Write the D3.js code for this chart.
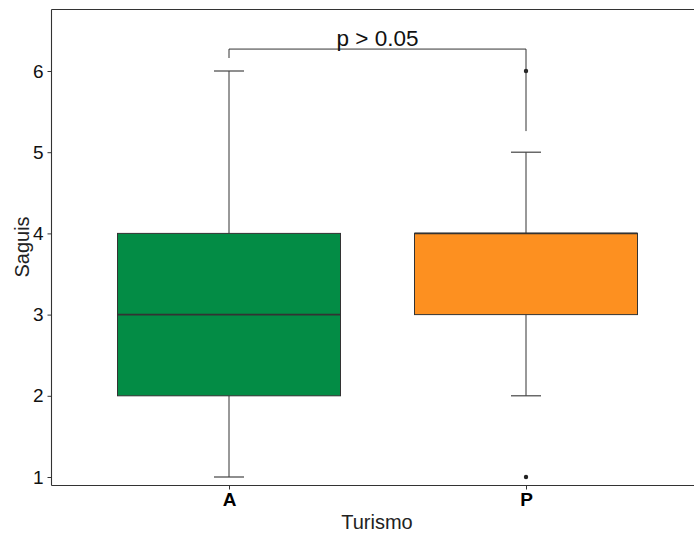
<!DOCTYPE html>
<html><head><meta charset="utf-8">
<script src="https://cdn.jsdelivr.net/npm/d3@7"></script>
<style>body{margin:0;background:#fff}</style>
</head><body>
<script>
const groups = ["A", "P"];
const whiskerLow = [1, 2];
const q1 = [2, 3];
const median = [3, 4];
const q3 = [4, 4];
const whiskerHigh = [6, 5];
const outliers = [[], [6, 1]];
const fills = ["#038c45", "#fd9020"];
const yTicks = [1, 2, 3, 4, 5, 6];
const pLabel = "p > 0.05";
const bracketY = 6.27;
const tipEnds = [6.16, 5.26];

const W = 694, H = 534;
const svg = d3.select("body").append("svg").attr("width", W).attr("height", H)
  .style("font-family", "'Liberation Sans', Arial, sans-serif");

const L = 51.5, R = 704, T = 9.5, B = 485.5;
const xc = d3.scalePoint().domain(groups).range([229, 526]);
const y = d3.scaleLinear().domain([1, 6]).range([477, 71]);
const bw = 223;

svg.append("line").attr("x1", L).attr("x2", R).attr("y1", T).attr("y2", T).attr("stroke", "#333").attr("stroke-width", 1.1);

const g = svg.append("g");
groups.forEach((k, i) => {
  const cx = xc(k);
  g.append("line").attr("x1", cx).attr("x2", cx).attr("y1", y(whiskerLow[i])).attr("y2", y(q1[i])).attr("stroke", "#333").attr("stroke-width", 1);
  g.append("line").attr("x1", cx).attr("x2", cx).attr("y1", y(q3[i])).attr("y2", y(whiskerHigh[i])).attr("stroke", "#333").attr("stroke-width", 1);
  [whiskerLow[i], whiskerHigh[i]].forEach(v => {
    g.append("line").attr("x1", cx - 15).attr("x2", cx + 15).attr("y1", y(v)).attr("y2", y(v)).attr("stroke", "#444").attr("stroke-width", 1.2);
  });
  g.append("rect").attr("x", cx - bw / 2).attr("y", y(q3[i])).attr("width", bw).attr("height", y(q1[i]) - y(q3[i]))
    .attr("fill", fills[i]).attr("stroke", "#333").attr("stroke-width", 1);
  g.append("line").attr("x1", cx - bw / 2).attr("x2", cx + bw / 2).attr("y1", y(median[i])).attr("y2", y(median[i])).attr("stroke", "#333").attr("stroke-width", 1.6);
  outliers[i].forEach(v => {
    g.append("circle").attr("cx", cx).attr("cy", y(v)).attr("r", 2.2).attr("fill", "#222");
  });
});

const bx1 = xc("A"), bx2 = xc("P");
svg.append("path")
  .attr("d", `M${bx1},${y(tipEnds[0])}V${y(bracketY)}H${bx2}V${y(tipEnds[1])}`)
  .attr("fill", "none").attr("stroke", "#333").attr("stroke-width", 1);
svg.append("text").attr("x", (bx1 + bx2) / 2).attr("y", y(bracketY) - 3).attr("text-anchor", "middle")
  .attr("font-size", 22.5).attr("fill", "#111").text(pLabel);

const ya = svg.append("g").attr("transform", `translate(${L},0)`)
  .call(d3.axisLeft(y).tickValues(yTicks).tickSize(4).tickPadding(4).tickFormat(d3.format("d")));
ya.select(".domain").remove();
ya.selectAll(".tick line").attr("stroke", "#333");
ya.selectAll("text").attr("font-size", 19).attr("fill", "#111").style("font-family", "'Liberation Sans', Arial, sans-serif");
svg.append("line").attr("x1", L).attr("x2", L).attr("y1", T).attr("y2", B).attr("stroke", "#333").attr("stroke-width", 1.1);

const xa = svg.append("g").attr("transform", `translate(0,${B})`)
  .call(d3.axisBottom(xc).tickSize(4).tickPadding(3));
xa.select(".domain").remove();
xa.selectAll(".tick line").attr("stroke", "#333");
xa.selectAll("text").attr("font-size", 19).attr("font-weight", "bold").attr("fill", "#000").style("font-family", "'Liberation Sans', Arial, sans-serif");
svg.append("line").attr("x1", L).attr("x2", R).attr("y1", B).attr("y2", B).attr("stroke", "#333").attr("stroke-width", 1.1);

svg.append("text").attr("x", 377).attr("y", 529).attr("text-anchor", "middle").attr("font-size", 20).attr("fill", "#222").text("Turismo");
svg.append("text").attr("transform", "translate(29,247) rotate(-90)").attr("text-anchor", "middle").attr("font-size", 20).attr("fill", "#222").text("Saguis");
</script>
</body></html>
